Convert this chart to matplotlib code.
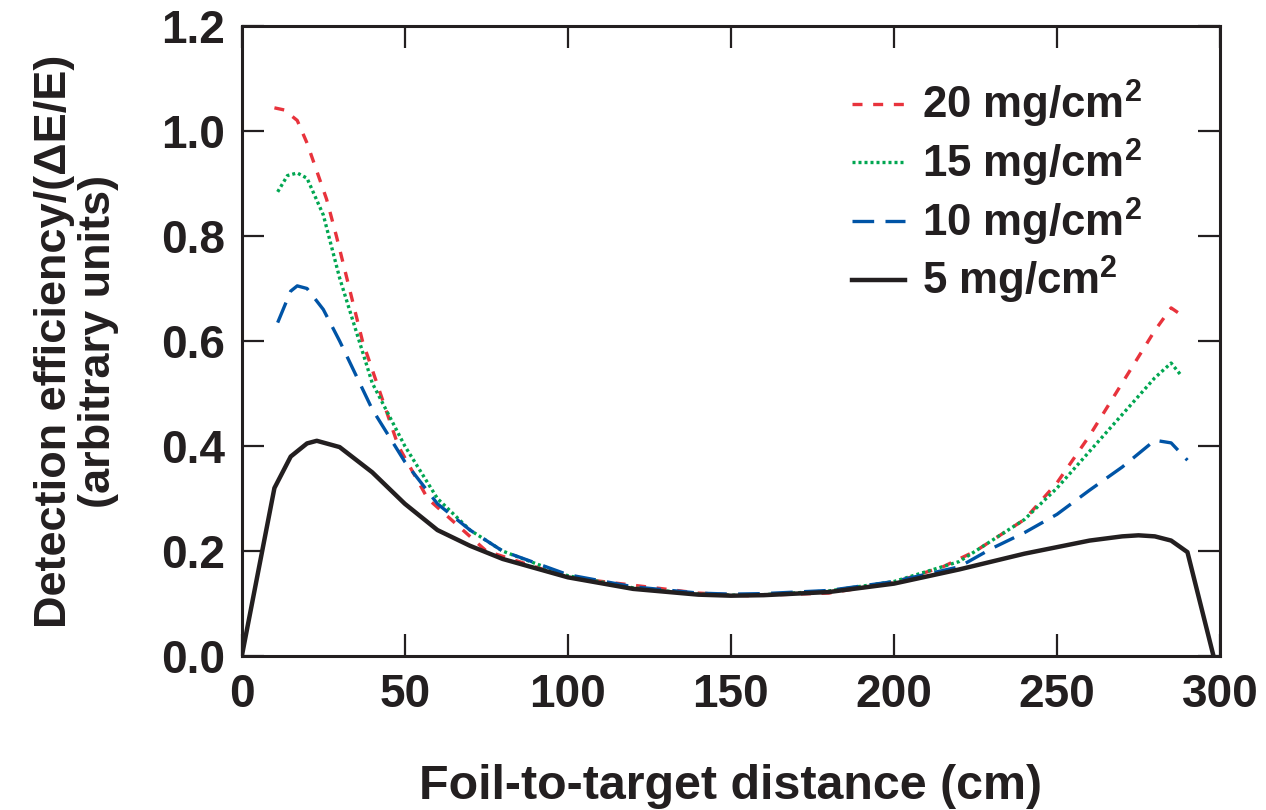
import matplotlib
matplotlib.use("Agg")
import matplotlib.pyplot as plt

plt.rcParams['font.family'] = ['Liberation Sans', 'DejaVu Sans']
plt.rcParams['font.weight'] = 'bold'
plt.rcParams['axes.labelweight'] = 'bold'
plt.rcParams['mathtext.fontset'] = 'custom'
plt.rcParams['mathtext.rm'] = 'Liberation Sans:bold'
plt.rcParams['mathtext.it'] = 'Liberation Sans:bold'
plt.rcParams['mathtext.bf'] = 'Liberation Sans:bold'

# 5 mg/cm2
x5 = [0, 10, 15, 20, 23, 30, 40, 50, 60, 70, 80, 100, 120, 140, 150, 160, 180, 200, 220, 240, 260, 270, 275, 280, 285, 290, 298]
y5 = [0.0, 0.32, 0.38, 0.405, 0.41, 0.398, 0.35, 0.29, 0.24, 0.21, 0.185, 0.15, 0.128, 0.117, 0.115, 0.116, 0.122, 0.138, 0.165, 0.195, 0.22, 0.228, 0.23, 0.228, 0.22, 0.198, 0.0]

# 10 mg/cm2
x10 = [11, 15, 17, 20, 25, 30, 40, 50, 60, 70, 80, 100, 120, 140, 150, 160, 180, 200, 220, 230, 240, 250, 260, 270, 280, 285, 290]
y10 = [0.635, 0.695, 0.705, 0.70, 0.66, 0.60, 0.47, 0.37, 0.29, 0.24, 0.20, 0.155, 0.132, 0.12, 0.118, 0.119, 0.125, 0.142, 0.17, 0.205, 0.235, 0.27, 0.316, 0.36, 0.411, 0.406, 0.373]

# 15 mg/cm2
x15 = [11, 14, 17, 20, 25, 30, 40, 50, 60, 70, 80, 100, 120, 140, 150, 160, 180, 200, 220, 240, 250, 260, 270, 280, 285, 288]
y15 = [0.884, 0.915, 0.92, 0.91, 0.84, 0.72, 0.52, 0.40, 0.30, 0.24, 0.20, 0.153, 0.13, 0.118, 0.116, 0.117, 0.124, 0.142, 0.18, 0.26, 0.32, 0.39, 0.46, 0.53, 0.558, 0.535]

# 20 mg/cm2
x20 = [10, 13, 17, 20, 26, 29, 37, 48, 57, 75, 100, 140, 155, 180, 200, 215, 225, 240, 250, 260, 270, 280, 285, 289]
y20 = [1.044, 1.04, 1.02, 0.977, 0.87, 0.80, 0.60, 0.40, 0.30, 0.20, 0.15, 0.12, 0.115, 0.12, 0.14, 0.17, 0.20, 0.26, 0.33, 0.42, 0.52, 0.62, 0.663, 0.646]

fig = plt.figure(figsize=(12.66, 8.10), dpi=100)
ax = fig.add_axes([0.191, 0.19, 0.7727, 0.778])

ax.plot(x20, y20, color='#e8333c', lw=2.4, linestyle=(0, (3, 3.2)), label='20 mg/cm$^2$')
ax.plot(x15, y15, color='#00a651', lw=2.4, linestyle=(0, (0.9, 0.9)), label='15 mg/cm$^2$')
ax.plot(x10, y10, color='#0054a6', lw=2.4, linestyle=(0, (6.5, 3.4)), label='10 mg/cm$^2$')
ax.plot(x5, y5, color='#231f20', lw=3.2, label='5 mg/cm$^2$')

ax.set_xlim(0, 300)
ax.set_ylim(0, 1.2)
ax.set_xticks([0, 50, 100, 150, 200, 250, 300])
ax.set_yticks([0.0, 0.2, 0.4, 0.6, 0.8, 1.0, 1.2])
ax.set_yticklabels(['0.0', '0.2', '0.4', '0.6', '0.8', '1.0', '1.2'])
ax.tick_params(direction='in', length=16, width=1.6, top=True, right=True,
               labelsize=33, color='#231f20', labelcolor='#231f20')
ax.tick_params(axis='y', pad=12)
ax.tick_params(axis='x', pad=12)
for s in ax.spines.values():
    s.set_linewidth(2.2)
    s.set_color('#231f20')

ax.set_xlabel('Foil-to-target distance (cm)', fontsize=34.8, labelpad=34, color='#231f20')
ax.set_ylabel('Detection efficiency/(\u0394E/E)\n(arbitrary units)', fontsize=32.5,
              labelpad=30, color='#231f20', linespacing=1.1)

leg = ax.legend(loc='upper left', bbox_to_anchor=(0.624, 0.917), frameon=False,
                fontsize=31.5, handlelength=1.2, handletextpad=0.4, labelspacing=0.15,
                borderaxespad=0, borderpad=0)
for t in leg.get_texts():
    t.set_color('#231f20')

fig.savefig('out.png', dpi=100)
